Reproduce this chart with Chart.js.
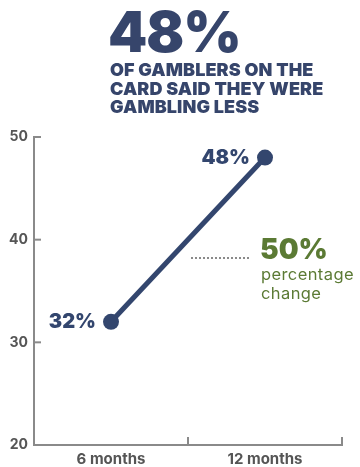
<!DOCTYPE html>
<html>
<head>
<meta charset="utf-8">
<script src="https://cdn.jsdelivr.net/npm/chart.js@4.4.1/dist/chart.umd.min.js"></script>
<style>
  html, body { margin: 0; padding: 0; background: #fff; }
  #wrap { position: relative; width: 360px; height: 467px; overflow: hidden; font-family: Inter, "DejaVu Sans", sans-serif; }
  #chart { position: absolute; left: 0; top: 0; }
  .big { position: absolute; left: 108px; top: 2px; font-size: 56px; font-weight: 900; color: #36456b; letter-spacing: -1px; line-height: 60px; }
  .sub { position: absolute; left: 110px; top: 61px; font-size: 18px; font-weight: 900; color: #36456b; line-height: 18.5px; letter-spacing: 0.1px; }
  .dots { position: absolute; left: 191px; top: 257px; width: 58px; border-top: 2px dotted #8a8a8a; }
  .pct { position: absolute; left: 260px; top: 233px; font-size: 28px; font-weight: 900; color: #5b7a34; line-height: 32px; }
  .pctnote { position: absolute; left: 261px; top: 265px; font-size: 16.5px; color: #5b7a34; line-height: 19px; letter-spacing: 0.4px; }
</style>
</head>
<body>
<div id="wrap">
  <canvas id="chart" width="360" height="467"></canvas>
  <div class="big">48%</div>
  <div class="sub">OF GAMBLERS ON THE<br>CARD SAID THEY WERE<br>GAMBLING LESS</div>
  <div class="dots"></div>
  <div class="pct">50%</div>
  <div class="pctnote">percentage<br>change</div>
</div>
<script>
// survey waves and share of gamblers who said they were gambling less
const waves = ['6 months', '12 months'];
const gamblingLess = [32, 48];
const yTicks = [20, 30, 40, 50];

const navy = '#33466e';
const axisGrey = '#8a8a8a';
const labelGrey = '#555555';

// short tick marks pointing into the plot, plus the value labels next to each point
const innerTicks = {
  id: 'innerTicks',
  afterDraw(chart) {
    const ctx = chart.ctx;
    const x = chart.scales.x;
    const y = chart.scales.y;
    ctx.save();
    ctx.strokeStyle = axisGrey;
    ctx.lineWidth = 2;
    yTicks.forEach(v => {
      const py = y.getPixelForValue(v);
      ctx.beginPath();
      ctx.moveTo(y.right, py);
      ctx.lineTo(y.right + 7, py);
      ctx.stroke();
    });
    // category boundaries on the x axis
    const half = (x.getPixelForTick(1) - x.getPixelForTick(0)) / 2;
    waves.forEach((w, i) => {
      const px = x.getPixelForTick(i) + half;
      ctx.beginPath();
      ctx.moveTo(px, x.top);
      ctx.lineTo(px, x.top - 8);
      ctx.stroke();
    });

    const meta = chart.getDatasetMeta(0);
    ctx.fillStyle = navy;
    ctx.font = '900 20px Inter, "DejaVu Sans", sans-serif';
    ctx.textAlign = 'right';
    ctx.textBaseline = 'middle';
    meta.data.forEach((pt, i) => {
      ctx.fillText(gamblingLess[i] + '%', pt.x - 15, pt.y);
    });
    ctx.restore();
  }
};

const axisGrid = { display: true, drawOnChartArea: false, drawTicks: false };

new Chart(document.getElementById('chart'), {
  type: 'line',
  data: {
    labels: waves,
    datasets: [{
      data: gamblingLess,
      borderColor: navy,
      backgroundColor: navy,
      borderWidth: 5,
      pointRadius: 8,
      pointBorderWidth: 0,
      pointBackgroundColor: navy,
      tension: 0,
      clip: false
    }]
  },
  options: {
    responsive: false,
    animation: false,
    layout: { padding: { top: 137, right: 18, left: 0, bottom: 0 } },
    plugins: { legend: { display: false }, tooltip: { enabled: false } },
    scales: {
      x: {
        offset: true,
        grid: axisGrid,
        border: { display: true, color: axisGrey, width: 2 },
        ticks: {
          color: labelGrey,
          padding: 5,
          font: { family: 'Inter, "DejaVu Sans", sans-serif', size: 15, weight: 'bold' }
        },
        afterFit(scale) { scale.height = 22; }
      },
      y: {
        min: 20,
        max: 50,
        grid: axisGrid,
        border: { display: true, color: axisGrey, width: 2 },
        ticks: {
          stepSize: 10,
          color: labelGrey,
          padding: 6,
          font: { family: 'Inter, "DejaVu Sans", sans-serif', size: 14, weight: 'bold' }
        },
        afterFit(scale) { scale.width = 34; }
      }
    }
  },
  plugins: [innerTicks]
});
</script>
</body>
</html>
